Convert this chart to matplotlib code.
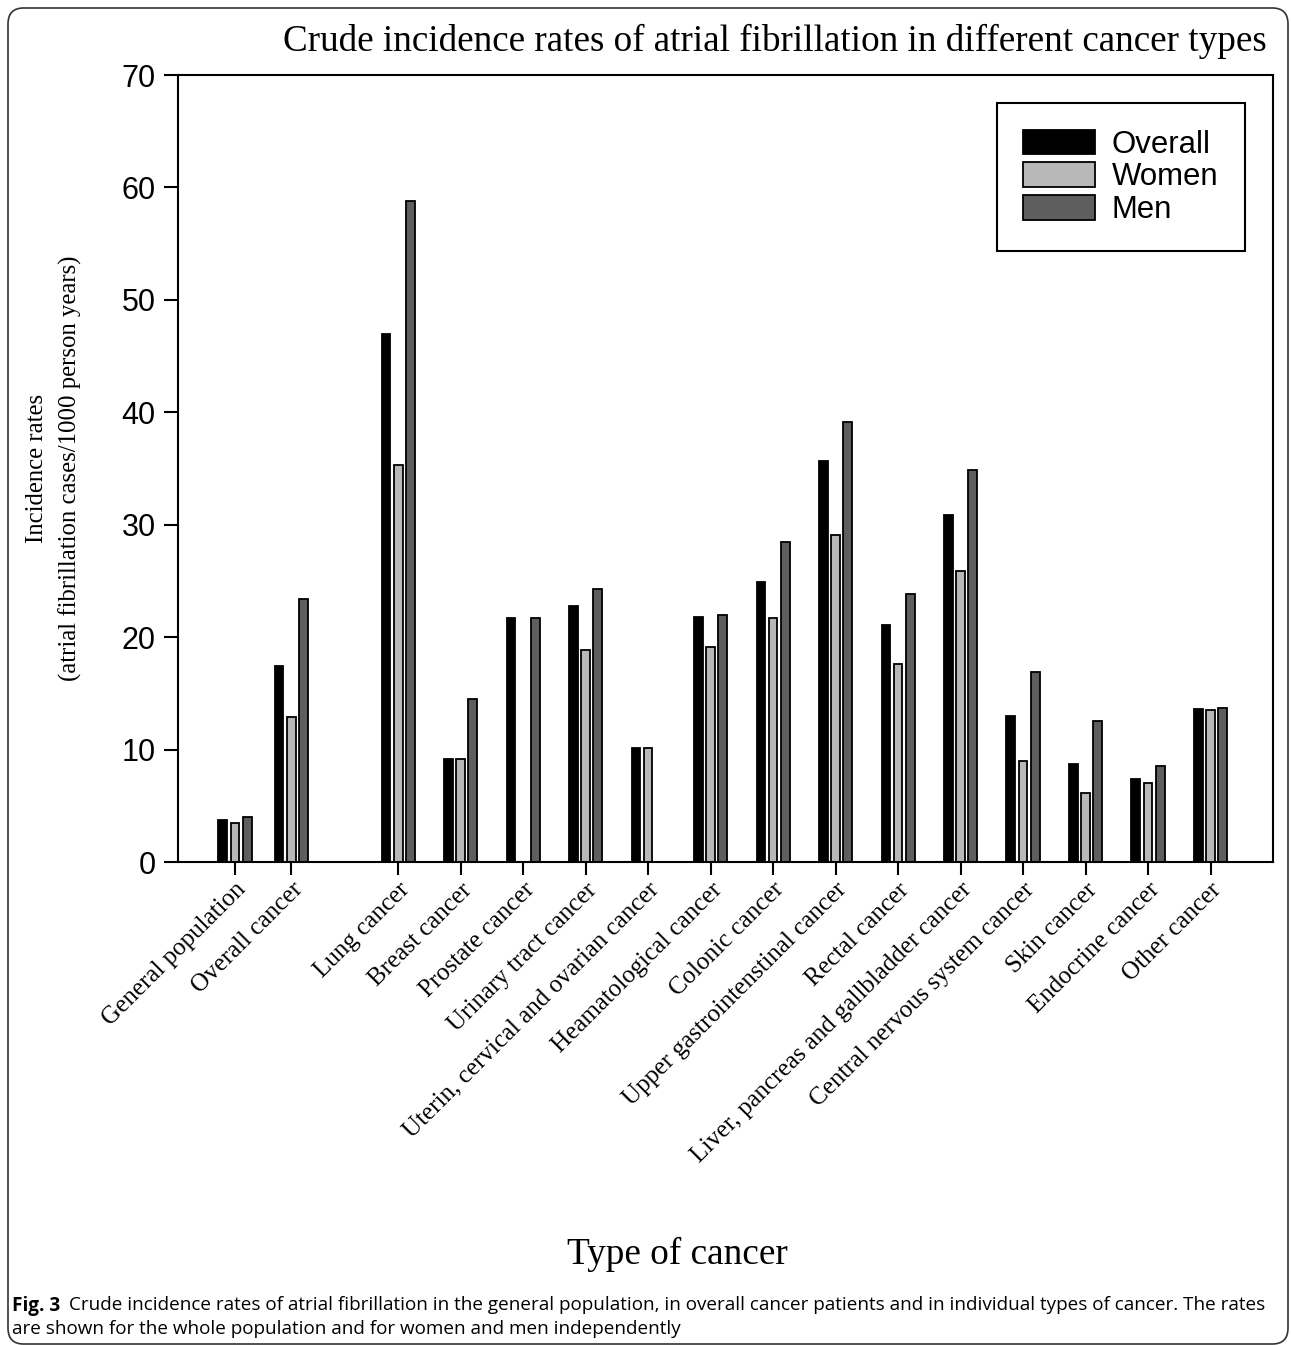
import numpy as np
import matplotlib.pyplot as plt
from matplotlib.patches import FancyBboxPatch

categories = ["General population", "Overall cancer", "Lung cancer", "Breast cancer",
              "Prostate cancer", "Urinary tract cancer",
              "Uterin, cervical and ovarian cancer", "Heamatological cancer",
              "Colonic cancer", "Upper gastrointenstinal cancer", "Rectal cancer",
              "Liver, pancreas and gallbladder cancer", "Central nervous system cancer",
              "Skin cancer", "Endocrine cancer", "Other cancer"]
overall = [3.7, 17.4, 47.0, 9.2, 21.7, 22.8, 10.1, 21.8, 24.9, 35.7, 21.1, 30.9, 13.0, 8.7, 7.4, 13.6]
women = [3.5, 12.9, 35.3, 9.2, np.nan, 18.9, 10.1, 19.1, 21.7, 29.1, 17.6, 25.9, 9.0, 6.1, 7.0, 13.5]
men = [4.0, 23.4, 58.8, 14.5, 21.7, 24.3, np.nan, 22.0, 28.5, 39.1, 23.8, 34.9, 16.9, 12.5, 8.5, 13.7]
series = ["Overall", "Women", "Men"]
colors = ["#000000", "#b8b8b8", "#5e5e5e"]

serif = "Liberation Serif"
sans = "Liberation Sans"

# group positions: the two reference groups, a gap, then the cancer types
xpos = np.array([0, 0.9] + [2.61 + i for i in range(len(categories) - 2)])
offset = 0.195
width = 0.14

fig = plt.figure(figsize=(12.92, 13.45), dpi=100)
ax = fig.add_axes([0.1378, 0.3591, 0.9853 - 0.1378, 0.9442 - 0.3591])

for k, vals in enumerate([overall, women, men]):
    ax.bar(xpos + (k - 1) * offset, vals, width=width, color=colors[k],
           edgecolor="black", linewidth=1.3, label=series[k])

ax.set_xlim(-0.912, 16.61)
ax.set_ylim(0, 70)
ax.set_yticks(range(0, 71, 10))
ax.set_xticks(xpos)
ax.set_xticklabels(categories, rotation=45, ha="right", rotation_mode="anchor",
                   fontfamily=serif, fontsize=18)
for lab in ax.get_yticklabels():
    lab.set_fontfamily(sans)
    lab.set_fontsize(22)
ax.tick_params(axis="x", length=9, width=1.5, direction="out", pad=3)
ax.tick_params(axis="y", length=10, width=1.5, direction="out", pad=6)
for sp in ax.spines.values():
    sp.set_linewidth(1.5)

leg = ax.legend(loc="upper right", bbox_to_anchor=(0.9744, 0.9644), fancybox=False,
                edgecolor="black", framealpha=1, prop={"family": sans, "size": 22.4},
                handlelength=2.3, handleheight=0.85, handletextpad=0.55,
                labelspacing=0.08, borderpad=0.85, borderaxespad=0)
leg.get_frame().set_linewidth(1.5)

fig.text(0.5995, 0.969, "Crude incidence rates of atrial fibrillation in different cancer types",
         ha="center", va="center", fontfamily=serif, fontsize=26.7)
fig.text(0.042, 0.652, "Incidence rates\n(atrial fibrillation cases/1000 person years)",
         ha="center", va="center", rotation=90, fontfamily=serif, fontsize=17.8,
         linespacing=1.6)
fig.text(0.524, 0.067, "Type of cancer", ha="center", va="center",
         fontfamily=serif, fontsize=26.8)

cap_x = 12 / 1292
fig.text(cap_x, 1 - 1296 / 1345, "Fig. 3", ha="left", va="top",
         fontfamily="Open Sans", fontweight="bold", fontsize=13.6)
fig.text(cap_x + 57 / 1292, 1 - 1296 / 1345,
         "Crude incidence rates of atrial fibrillation in the general population, in overall cancer "
         "patients and in individual types of cancer. The rates",
         ha="left", va="top", fontfamily="Open Sans", fontsize=13.6)
fig.text(cap_x, 1 - 1320 / 1345, "are shown for the whole population and for women and men independently",
         ha="left", va="top", fontfamily="Open Sans", fontsize=13.6)

border = FancyBboxPatch((8 / 1292, 1 / 1345), 1 - 12 / 1292, 1 - 9 / 1345,
                        boxstyle="round,pad=0,rounding_size=0.012",
                        transform=fig.transFigure, fill=False,
                        edgecolor="#333333", linewidth=1.2)
fig.patches.append(border)

fig.savefig("out.png", dpi=100)
